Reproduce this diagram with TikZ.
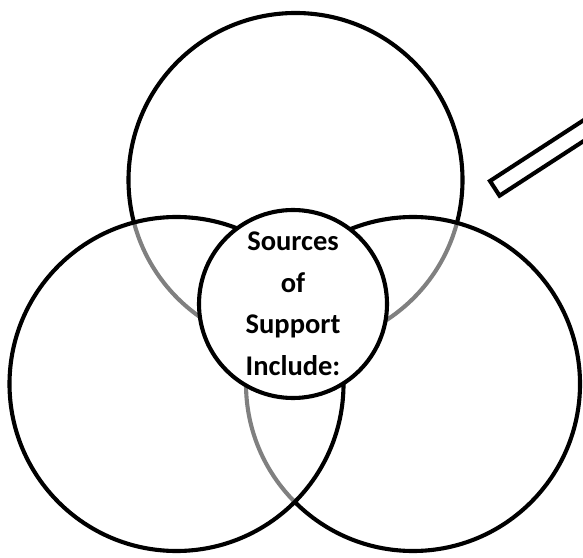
\documentclass[tikz,border=0pt]{standalone}
\usepackage{fontspec}
\newfontfamily\carlito{Carlito}
\begin{document}
\begin{tikzpicture}[x=1pt, y=1pt, line width=4.1pt,
  ring/.style={circle, draw, inner sep=0pt, minimum size=334pt},
  seethrough/.style={ring, fill=white, fill opacity=0.5, draw opacity=1}]

\useasboundingbox (0,0) rectangle (583,557);
\clip (0,0) rectangle (583,557);

\node[ring] (top) at (295.5,377) {};
\node[seethrough] (right) at (413,173) {};
\node[seethrough] (left) at (176.5,173) {};
\node[circle, draw, fill=white, inner sep=0pt, minimum size=188pt,
  font=\carlito\bfseries\fontsize{28.5}{41.5}\selectfont, align=center] (hub) at (293,253)
  {Sources\\of\\Support\\Include:};

\coordinate (tab) at (490,376);
\draw[rotate around={33:(tab)}] (tab) rectangle ++(150,-17.5);

\end{tikzpicture}
\end{document}
